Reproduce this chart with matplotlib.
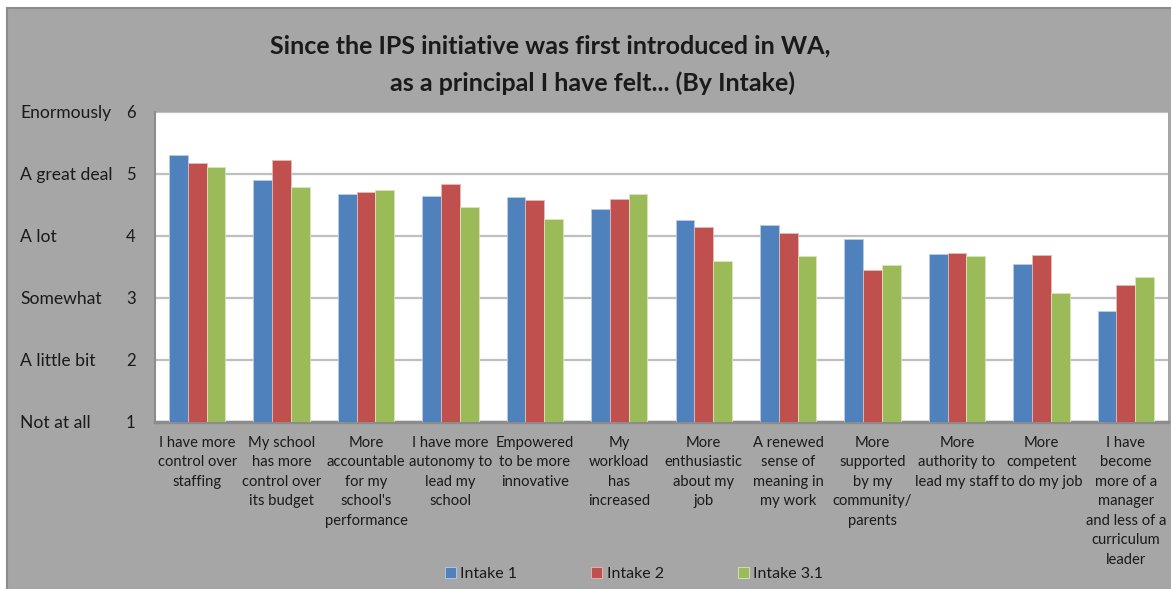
import numpy as np
import matplotlib
matplotlib.use('Agg')
import matplotlib.pyplot as plt
from matplotlib.patches import Rectangle

plt.rcParams['font.family'] = ['Lato', 'DejaVu Sans']

# datos
categorias = [
    "I have more\ncontrol over\nstaffing",
    "My school\nhas more\ncontrol over\nits budget",
    "More\naccountable\nfor my\nschool's\nperformance",
    "I have more\nautonomy to\nlead my\nschool",
    "Empowered\nto be more\ninnovative",
    "My\nworkload\nhas\nincreased",
    "More\nenthusiastic\nabout my\njob",
    "A renewed\nsense of\nmeaning in\nmy work",
    "More\nsupported\nby my\ncommunity/\nparents",
    "More\nauthority to\nlead my staff",
    "More\ncompetent\nto do my job",
    "I have\nbecome\nmore of a\nmanager\nand less of a\ncurriculum\nleader",
]
intake_1 = [5.30, 4.91, 4.68, 4.65, 4.63, 4.44, 4.26, 4.17, 3.95, 3.70, 3.55, 2.78]
intake_2 = [5.17, 5.23, 4.71, 4.84, 4.58, 4.59, 4.15, 4.05, 3.45, 3.73, 3.69, 3.20]
intake_31 = [5.11, 4.79, 4.74, 4.46, 4.27, 4.68, 3.59, 3.67, 3.53, 3.67, 3.07, 3.33]
series_names = ["Intake 1", "Intake 2", "Intake 3.1"]
y_ticks = [1, 2, 3, 4, 5, 6]
y_words = ["Not at all", "A little bit", "Somewhat", "A lot", "A great deal", "Enormously"]

W, H = 1171, 589
fig = plt.figure(figsize=(W / 100, H / 100), dpi=100)
fig.patch.set_facecolor('white')

# fondo gris del area del grafico
gris = '#A6A6A6'
fig.patches.append(Rectangle((7 / W, -0.01), 1.0, 1 - 8 / H + 0.01, transform=fig.transFigure,
                             facecolor=gris, edgecolor='#8C8C8C', linewidth=1.5, zorder=-10))

ax = fig.add_axes([155 / W, (H - 421.7) / H, (1168 - 155) / W, (421.7 - 112) / H])
ax.set_facecolor('white')

colores = ['#4F81BD', '#C0504D', '#9BBB59']
bordes = ['#B9CDE5', '#E6B9B8', '#D7E4BD']
x = np.arange(len(categorias))
ancho = 1 / 4.5
for i, (vals, nombre) in enumerate(zip([intake_1, intake_2, intake_31], series_names)):
    ax.bar(x + (i - 1) * ancho, np.array(vals) - 1, bottom=1, width=ancho,
           color=colores[i], edgecolor=bordes[i], linewidth=0.6, label=nombre, zorder=3)

ax.set_xlim(-0.5, len(categorias) - 0.5)
ax.set_ylim(1, 6)
ax.set_yticks(y_ticks)
ax.set_yticklabels([str(v) for v in y_ticks])
ax.yaxis.grid(True, color='#BFBFBF', linewidth=1.6, zorder=0)
ax.set_axisbelow(True)

ax.set_xticks(x)
ax.set_xticklabels(categorias, fontsize=10.6, linespacing=1.5, va='top', color='#1a1a1a')
ax.tick_params(axis='x', length=0, pad=10)
ax.tick_params(axis='y', length=0, pad=14, labelsize=12, labelcolor='#1a1a1a')

for lado in ['top', 'right']:
    ax.spines[lado].set_visible(False)
ax.spines['left'].set_color('#8C8C8C')
ax.spines['bottom'].set_color('#8C8C8C')
ax.spines['left'].set_linewidth(1.5)
ax.spines['bottom'].set_linewidth(2.5)

# etiquetas de texto del eje y
for v, palabra in zip(y_ticks, y_words):
    ax.annotate(palabra, xy=(0, v), xycoords=('axes fraction', 'data'),
                xytext=(20, -1), textcoords=('figure pixels', 'offset points'),
                ha='left', va='center', fontsize=12.6, color='#1a1a1a')

# titulo
fig.text(550 / W, 1 - 46 / H, "Since the IPS initiative was first introduced in WA,",
         ha='center', va='center', fontsize=18, fontweight='bold', color='#1a1a1a')
fig.text(592 / W, 1 - 83 / H, "as a principal I have felt... (By Intake)",
         ha='center', va='center', fontsize=18, fontweight='bold', color='#1a1a1a')

leg = fig.legend(loc='center', bbox_to_anchor=(634 / W, 1 - 574 / H), ncol=3, frameon=False,
                 fontsize=11.5, handlelength=0.7, handleheight=0.7, handletextpad=0.3,
                 columnspacing=4.6, labelcolor='#1a1a1a')

fig.savefig('out.png', dpi=100, facecolor=fig.get_facecolor())
